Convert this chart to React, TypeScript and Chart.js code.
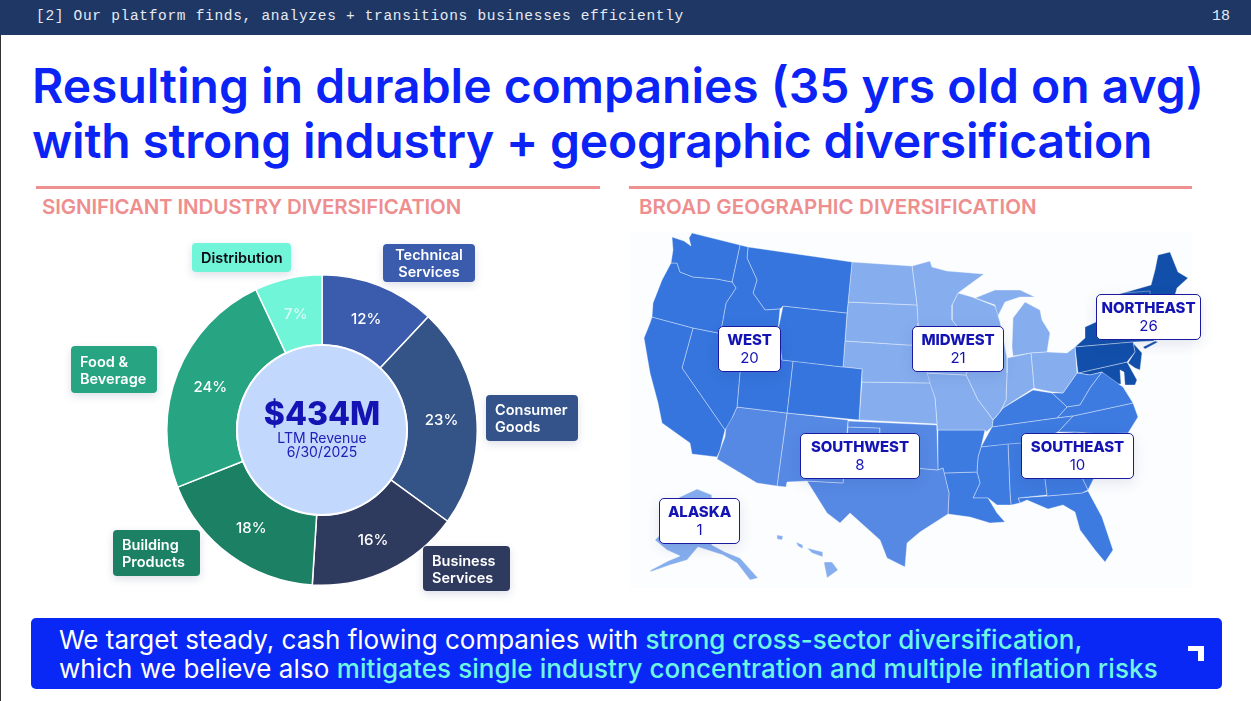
import React, { useEffect, useRef } from "react";
import { Chart, registerables } from "chart.js";

Chart.register(...registerables);

/* ---------- doughnut data ---------- */
const sectors = ["Technical Services", "Consumer Goods", "Business Services", "Building Products", "Food & Beverage", "Distribution"];
const shares = [12, 23, 16, 18, 24, 7];
const sectorColors = ["#3B5CAD", "#345386", "#2F3A5F", "#1C8064", "#27A583", "#71F5D8"];
const shareTextColors = ["#FFFFFF", "#FFFFFF", "#FFFFFF", "#FFFFFF", "#FFFFFF", "rgba(255,255,255,0.72)"];

/* ---------- map data: state outlines ---------- */
type P = number[][];
const WA: P = [[692,233],[740,245],[732,282],[717,279],[693,277],[680,272],[677,263],[671,263],[673,250],[672,237],[684,241],[691,246],[689,238]];
const OR: P = [[671,263],[677,263],[680,272],[693,277],[717,279],[732,282],[736,288],[726,303],[722,325],[718,333],[693,328],[652,317],[653,303],[662,280]];
const CA: P = [[652,317],[693,328],[682,368],[725,430],[720,450],[717,457],[692,454],[690,443],[662,423],[658,403],[650,373],[644,338],[650,323]];
const NV: P = [[693,328],[718,333],[743,337],[737,407],[732,418],[725,430],[682,368]];
const ID: P = [[740,245],[748,247],[747,258],[757,280],[753,293],[765,310],[780,309],[778,330],[743,337],[718,333],[722,325],[726,303],[736,288],[732,282]];
const MT: P = [[748,247],[852,262],[847,313],[783,306],[780,309],[765,310],[753,293],[757,280],[747,258]];
const WY: P = [[783,306],[847,313],[843,367],[782,360],[778,330]];
const UT: P = [[743,337],[778,330],[782,360],[793,361],[787,413],[737,407]];
const CO: P = [[793,361],[843,367],[862,369],[859,420],[787,413]];
const AZ: P = [[737,407],[787,413],[777,486],[757,483],[717,459],[720,450],[725,437],[727,417],[732,418]];
const NM: P = [[787,413],[848,420],[843,483],[807,481],[787,482],[786,487],[777,486]];
const OK: P = [[848,421],[937,425],[937,430],[938,470],[880,465],[880,428],[848,427]];
const TX: P = [[848,427],[880,428],[880,465],[938,470],[943,468],[949,493],[948,514],[920,532],[907,543],[905,567],[887,558],[880,540],[850,513],[840,523],[827,513],[807,481],[843,483]];
const ND: P = [[852,262],[912,266],[917,305],[848,302]];
const SD: P = [[848,302],[917,305],[918,323],[918,345],[908,345],[845,341]];
const NE: P = [[845,341],[908,345],[918,345],[925,365],[930,383],[862,382],[862,369],[843,367]];
const KS: P = [[862,382],[930,383],[935,398],[937,424],[859,420]];
const MN: P = [[912,266],[930,261],[932,267],[947,271],[984,274],[958,293],[952,305],[952,320],[962,333],[918,333],[917,305]];
const IA: P = [[918,333],[962,333],[973,352],[966,375],[925,373],[920,345]];
const MO: P = [[925,373],[966,375],[978,400],[988,413],[993,420],[992,427],[986,432],[985,430],[937,430],[937,424],[935,398]];
const WI: P = [[958,293],[972,297],[995,306],[1000,322],[1002,331],[962,333],[952,320],[952,305]];
const IL: P = [[962,333],[1002,331],[1007,358],[1007,373],[1006,400],[1000,412],[993,420],[988,413],[978,400],[966,375],[973,352]];
const IN: P = [[1007,358],[1031,353],[1034,388],[1012,402],[1003,408],[993,420],[1000,412],[1006,400],[1007,373]];
const OH: P = [[1031,353],[1047,352],[1067,353],[1075,347],[1077,373],[1063,393],[1052,392],[1037,389],[1034,388]];
const MI: P = [[1012,347],[1013,318],[1025,302],[1040,310],[1042,320],[1050,333],[1047,352],[1031,353],[1013,356]];
const MIU: P = [[975,298],[995,290],[1020,290],[1035,297],[1020,297],[1005,302],[997,318],[995,305]];
const AR: P = [[938,430],[985,430],[981,447],[978,457],[977,472],[944,473],[943,468],[938,470]];
const LA: P = [[944,473],[977,472],[980,483],[973,498],[988,498],[997,513],[1005,522],[990,523],[970,517],[948,514],[949,493]];
const MS: P = [[978,457],[981,447],[1008,444],[1010,493],[1011,505],[997,505],[988,498],[973,498],[980,483],[977,472]];
const AL: P = [[1008,444],[1035,442],[1045,480],[1047,495],[1018,498],[1020,503],[1011,505],[1010,493]];
const GA: P = [[1035,442],[1060,433],[1088,490],[1082,493],[1047,496],[1045,480]];
const FL: P = [[1018,498],[1047,496],[1082,493],[1088,491],[1102,517],[1113,550],[1105,562],[1095,550],[1080,530],[1075,512],[1063,505],[1048,509],[1027,500],[1020,503]];
const TN: P = [[992,427],[1057,418],[1073,416],[1058,432],[1035,442],[981,447]];
const KY: P = [[993,420],[1003,408],[1033,390],[1052,393],[1067,407],[1057,418],[992,427]];
const VA: P = [[1057,418],[1067,407],[1080,405],[1090,388],[1102,372],[1123,387],[1133,403],[1073,416]];
const WV: P = [[1077,373],[1090,375],[1102,372],[1090,388],[1080,405],[1067,407],[1052,393],[1063,393]];
const NC: P = [[1073,416],[1133,403],[1138,417],[1128,433],[1100,434],[1075,432],[1058,432]];
const SC: P = [[1060,433],[1075,432],[1122,434],[1093,480],[1088,490]];
const PA: P = [[1075,347],[1133,342],[1135,352],[1127,362],[1078,373]];
const NY: P = [[1075,347],[1085,338],[1085,327],[1096,322],[1096,300],[1123,293],[1150,291],[1154,341],[1133,342]];
const NJ: P = [[1133,343],[1142,353],[1140,370],[1135,368],[1128,363],[1135,352]];
const MD: P = [[1078,373],[1127,362],[1137,380],[1135,385],[1125,385],[1124,372],[1120,370],[1121,384],[1113,384],[1108,378],[1102,372],[1090,375]];
const NEN: P = [[1123,293],[1151,285],[1155,270],[1158,255],[1170,252],[1178,272],[1188,278],[1177,288],[1175,295],[1165,330],[1155,341],[1150,300]];
const LI: P = [[1143,347],[1155,341],[1158,342],[1145,349]];
const AK: P = [[680,497],[697,489],[712,495],[712,545],[725,552],[740,558],[758,578],[750,580],[737,563],[723,555],[698,547],[687,560],[670,565],[650,572],[651,570],[668,561],[680,556],[667,550],[655,540],[665,530],[660,520],[668,505]];
const HI1: P = [[825,562],[832,562],[838,570],[827,578],[824,563]];
const HI2: P = [[807,548],[823,552],[823,557],[812,553]];
const HI3: P = [[796,542],[803,545],[803,549],[798,546]];
const HI4: P = [[777,535],[783,536],[782,540],[777,539]];

const westStates = [WA, OR, CA, NV, ID, MT, WY, UT, CO];
const southwestStates = [AZ, NM, OK, TX];
const midwestStates = [ND, SD, NE, KS, MN, IA, MO, WI, IL, IN, OH, MI, MIU];
const southeastStates = [AR, LA, MS, AL, GA, FL, TN, KY, VA, WV, NC, SC];
const northeastStates = [PA, NY, NJ, MD, NEN, LI];
const outlyingStates = [AK, HI1, HI2, HI3, HI4];

const regionLabels = ["WEST", "MIDWEST", "NORTHEAST", "SOUTHWEST", "SOUTHEAST", "ALASKA"];
const regionCounts = [20, 21, 26, 8, 10, 1];

const SANS = "Inter, 'Noto Sans', sans-serif";
const INK = "#1414B4";

const abs = (x: number, y: number, w: number, h: number): React.CSSProperties => ({
  position: "absolute", left: x, top: y, width: w, height: h,
});

function Tag({ x, y, w, h, bg, color = "#fff", lines }: any) {
  return (
    <div style={{ ...abs(x, y, w, h), background: bg, color, borderRadius: 4, boxShadow: "0 3px 8px rgba(60,80,120,.18)",
      fontFamily: SANS, fontWeight: 600, fontSize: 14.5, lineHeight: "17px", paddingLeft: lines.center ? 0 : 9, boxSizing: "border-box",
      display: "flex", flexDirection: "column", justifyContent: "center", alignItems: lines.center ? "center" : "flex-start", textAlign: lines.center ? "center" : "left" }}>
      {lines.text.map((t: string) => <div key={t} style={{ whiteSpace: "nowrap" }}>{t}</div>)}
    </div>
  );
}

function RegionBox({ x, y, w, i }: any) {
  return (
    <div style={{ ...abs(x, y, w, 46), background: "#fff", border: "1.5px solid #1A1AA0", borderRadius: 5, boxSizing: "border-box",
      boxShadow: "0 4px 14px rgba(40,60,120,.12)", textAlign: "center", color: INK, fontFamily: SANS }}>
      <div style={{ fontWeight: 800, fontSize: 15, lineHeight: "18px", marginTop: 4, letterSpacing: -0.1 }}>{regionLabels[i]}</div>
      <div style={{ fontWeight: 400, fontSize: 15, lineHeight: "18px" }}>{regionCounts[i]}</div>
    </div>
  );
}

export default function App() {
  const donutRef = useRef<HTMLCanvasElement>(null);
  const mapRef = useRef<HTMLCanvasElement>(null);

  useEffect(() => {
    const centerDisc = {
      id: "centerDisc",
      afterDatasetsDraw(chart: any) {
        const arc = chart.getDatasetMeta(0).data[0];
        const { ctx } = chart;
        ctx.save();
        ctx.beginPath();
        ctx.arc(arc.x, arc.y, arc.innerRadius, 0, Math.PI * 2);
        ctx.fillStyle = "#C2D8FD";
        ctx.fill();
        ctx.lineWidth = 2;
        ctx.strokeStyle = "#FFFFFF";
        ctx.stroke();
        ctx.font = `500 15px ${SANS}`;
        ctx.textAlign = "center";
        ctx.textBaseline = "middle";
        chart.getDatasetMeta(0).data.forEach((el: any, i: number) => {
          const p = el.tooltipPosition();
          ctx.fillStyle = shareTextColors[i];
          ctx.fillText(`${shares[i]}%`, p.x, p.y + 1.5);
        });
        ctx.restore();
      },
    };

    const donut = new Chart(donutRef.current!, {
      type: "doughnut",
      data: {
        labels: sectors,
        datasets: [{ data: shares, backgroundColor: sectorColors, borderColor: "#FFFFFF", borderWidth: 1.5 }],
      },
      options: {
        responsive: false,
        animation: false,
        cutout: 85,
        layout: { padding: 0 },
        plugins: { legend: { display: false }, tooltip: { enabled: false } },
      },
      plugins: [centerDisc],
    } as any);

    const toSet = (poly: P, color: string) => ({
      data: [...poly, poly[0]].map(([x, y]) => ({ x, y })),
      showLine: true,
      fill: "shape",
      backgroundColor: color,
      borderColor: "rgba(255,255,255,0.45)",
      borderWidth: 0.8,
      pointRadius: 0,
      tension: 0,
    });

    const map = new Chart(mapRef.current!, {
      type: "scatter",
      data: {
        datasets: [
          ...westStates.map((s) => toSet(s, "#3575DD")),
          ...southwestStates.map((s) => toSet(s, "#5689E4")),
          ...midwestStates.map((s) => toSet(s, "#86AEEE")),
          ...southeastStates.map((s) => toSet(s, "#3E7BE0")),
          ...northeastStates.map((s) => toSet(s, "#114FAA")),
          ...outlyingStates.map((s) => toSet(s, "#86AEEE")),
        ],
      },
      options: {
        responsive: false,
        animation: false,
        layout: { padding: 0 },
        plugins: { legend: { display: false }, tooltip: { enabled: false } },
        scales: {
          x: { type: "linear", display: false, min: 630, max: 1192 },
          y: { type: "linear", display: false, min: 232, max: 588, reverse: true },
        },
      },
    } as any);

    return () => {
      donut.destroy();
      map.destroy();
    };
  }, []);

  return (
    <div style={{ position: "fixed", left: 0, top: 0, width: 1251, height: 701, background: "#fff", overflow: "hidden" }}>
      <div style={{ ...abs(0, 0, 1251, 35), background: "#1E3765" }} />
      <div style={{ ...abs(0, 35, 1, 666), background: "#333" }} />
      <div style={{ ...abs(36, 6, 660, 20), color: "#E6EAF2", fontFamily: "'Liberation Mono', monospace", fontSize: 14.5, letterSpacing: 0.69, lineHeight: "20px", whiteSpace: "nowrap" }}>
        [2] Our platform finds, analyzes + transitions businesses efficiently
      </div>
      <div style={{ ...abs(1212, 7, 24, 20), color: "#E6EAF2", fontFamily: "'Liberation Mono', monospace", fontSize: 15, lineHeight: "20px" }}>18</div>

      <div style={{ ...abs(32, 58, 1190, 56), color: "#0B24F5", fontFamily: SANS, fontWeight: 600, fontSize: 48, lineHeight: "56px", whiteSpace: "nowrap" }}>
        Resulting in durable companies (35 yrs old on avg)
      </div>
      <div style={{ ...abs(32, 113, 1190, 56), color: "#0B24F5", fontFamily: SANS, fontWeight: 600, fontSize: 48, lineHeight: "56px", whiteSpace: "nowrap", letterSpacing: -0.2 }}>
        with strong industry + geographic diversification
      </div>

      <div style={{ ...abs(36, 186, 564, 3), background: "#EE9090" }} />
      <div style={{ ...abs(629, 186, 563, 3), background: "#EE9090" }} />
      <div style={{ ...abs(42, 194, 560, 26), color: "#EE8E8E", fontFamily: SANS, fontWeight: 600, fontSize: 20.5, lineHeight: "26px", whiteSpace: "nowrap", letterSpacing: -0.13 }}>
        SIGNIFICANT INDUSTRY DIVERSIFICATION
      </div>
      <div style={{ ...abs(639, 194, 560, 26), color: "#EE8E8E", fontFamily: SANS, fontWeight: 600, fontSize: 20.5, lineHeight: "26px", whiteSpace: "nowrap", letterSpacing: 0.1 }}>
        BROAD GEOGRAPHIC DIVERSIFICATION
      </div>

      <canvas ref={donutRef} width={312} height={312} style={{ ...abs(166, 274, 312, 312), display: "block" }} />
      <div style={{ ...abs(237, 393, 170, 42), textAlign: "center", color: INK, fontFamily: SANS, fontWeight: 800, fontSize: 32, lineHeight: "42px" }}>$434M</div>
      <div style={{ ...abs(237, 431, 170, 30), textAlign: "center", color: "#2020B8", fontFamily: SANS, fontWeight: 400, fontSize: 14, lineHeight: "14px" }}>
        LTM Revenue<br />6/30/2025
      </div>

      <Tag x={192} y={243} w={99} h={29} bg="#71F5D8" color="#0A0A14" lines={{ text: ["Distribution"] }} />
      <Tag x={383} y={244} w={92} h={38} bg="#3B5CAD" lines={{ text: ["Technical", "Services"], center: true }} />
      <Tag x={486} y={395} w={92} h={46} bg="#34538A" lines={{ text: ["Consumer", "Goods"] }} />
      <Tag x={423} y={546} w={87} h={45} bg="#2F3A5F" lines={{ text: ["Business", "Services"] }} />
      <Tag x={113} y={530} w={87} h={46} bg="#1C8064" lines={{ text: ["Building", "Products"] }} />
      <Tag x={71} y={346} w={86} h={47} bg="#27A583" lines={{ text: ["Food &", "Beverage"] }} />

      <canvas ref={mapRef} width={562} height={356} style={{ ...abs(630, 232, 562, 356), display: "block", background: "#FCFDFE" }} />
      <RegionBox x={718} y={326} w={63} i={0} />
      <RegionBox x={912} y={326} w={92} i={1} />
      <RegionBox x={1096} y={294} w={105} i={2} />
      <RegionBox x={800} y={433} w={120} i={3} />
      <RegionBox x={1021} y={433} w={113} i={4} />
      <RegionBox x={659} y={498} w={81} i={5} />

      <div style={{ ...abs(31, 618, 1191, 71), background: "#0A28F5", borderRadius: 5 }} />
      <div style={{ ...abs(59, 625, 1110, 29), color: "#fff", fontFamily: SANS, fontWeight: 400, fontSize: 26, lineHeight: "29px", whiteSpace: "nowrap" }}>
        We target steady, cash flowing companies with <span style={{ color: "#6FF5E4", fontWeight: 500 }}>strong cross-sector diversification,</span>
      </div>
      <div style={{ ...abs(59, 654, 1110, 29), color: "#fff", fontFamily: SANS, fontWeight: 400, fontSize: 26, lineHeight: "29px", whiteSpace: "nowrap", letterSpacing: 0.07 }}>
        which we believe also <span style={{ color: "#6FF5E4", fontWeight: 500 }}>mitigates single industry concentration and multiple inflation risks</span>
      </div>
      <div style={{ ...abs(1188, 646, 16, 5), background: "#fff" }} />
      <div style={{ ...abs(1198, 646, 6, 15), background: "#fff" }} />
    </div>
  );
}
